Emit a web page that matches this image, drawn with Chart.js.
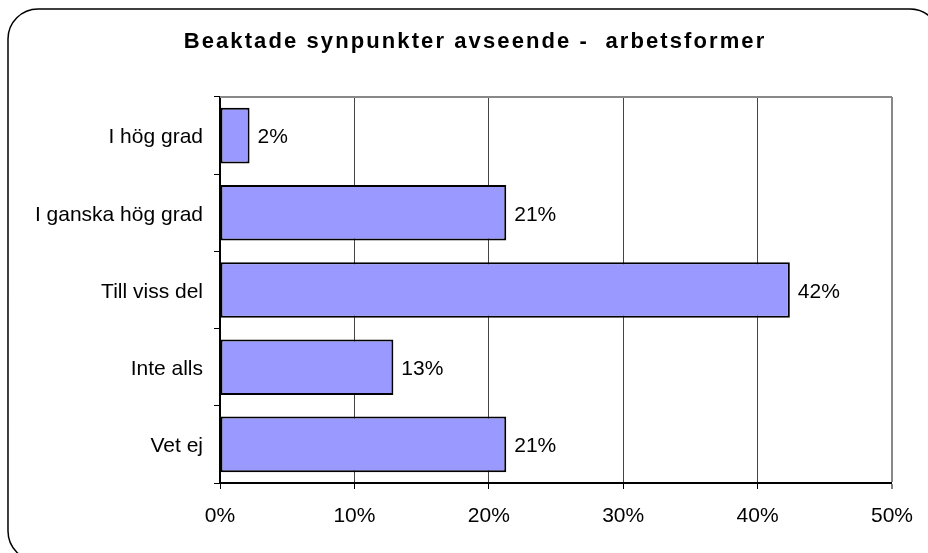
<!DOCTYPE html>
<html>
<head>
<meta charset="utf-8">
<script src="https://cdn.jsdelivr.net/npm/chart.js@4"></script>
<style>
html,body{margin:0;padding:0;background:#fff;}
canvas{display:block;}
</style>
</head>
<body>
<canvas id="c" width="928" height="553"></canvas>
<script>
const title = "Beaktade synpunkter avseende -  arbetsformer";
const categories = ["I hög grad", "I ganska hög grad", "Till viss del", "Inte alls", "Vet ej"];
const values = [2.2, 21.3, 42.4, 12.9, 21.3];
const xTicks = [0, 10, 20, 30, 40, 50];

const FONT = '"Liberation Sans", Arial, sans-serif';

const framePlugin = {
  id: 'frame',
  beforeDraw(chart) {
    const ctx = chart.ctx;
    ctx.save();
    ctx.fillStyle = '#fff';
    ctx.fillRect(0, 0, chart.width, chart.height);
    ctx.beginPath();
    ctx.roundRect(8, 9, 932, 552, 30);
    ctx.lineWidth = 1.5;
    ctx.strokeStyle = '#000';
    ctx.stroke();
    ctx.restore();
  },
  afterDraw(chart) {
    const ctx = chart.ctx;
    const a = chart.chartArea;
    ctx.save();
    ctx.strokeStyle = '#888';
    ctx.lineWidth = 2;
    ctx.beginPath();
    ctx.moveTo(a.left, a.top);
    ctx.lineTo(a.right, a.top);
    ctx.stroke();
    ctx.fillStyle = '#000';
    ctx.font = 'bold 22px ' + FONT;
    ctx.textAlign = 'center';
    ctx.textBaseline = 'middle';
    if ('letterSpacing' in ctx) ctx.letterSpacing = '2.1px';
    ctx.fillText(title, 475, 42);
    if ('letterSpacing' in ctx) ctx.letterSpacing = '0px';
    ctx.font = '21px ' + FONT;
    ctx.textAlign = 'left';
    const meta = chart.getDatasetMeta(0);
    meta.data.forEach((bar, i) => {
      ctx.fillText(Math.round(values[i]) + '%', bar.x + 8, bar.y + 2);
    });
    ctx.restore();
  }
};

new Chart(document.getElementById('c'), {
  type: 'bar',
  data: {
    labels: categories,
    datasets: [{
      data: values,
      backgroundColor: '#9999FF',
      borderColor: '#000',
      borderWidth: 2,
      borderSkipped: false,
      barPercentage: 0.72,
      categoryPercentage: 1
    }]
  },
  options: {
    indexAxis: 'y',
    responsive: false,
    animation: false,
    devicePixelRatio: 1,
    layout: { padding: { top: 97, right: 36, left: 0, bottom: 0 } },
    plugins: { legend: { display: false }, tooltip: { enabled: false }, title: { display: false } },
    scales: {
      x: {
        min: 0, max: 50,
        afterFit(s) { s.height = 70; },
        afterBuildTicks(s) { s.ticks = xTicks.map(v => ({ value: v })); },
        ticks: {
          color: '#000',
          font: { family: FONT, size: 21 },
          padding: 15,
          callback: v => v + '%'
        },
        grid: {
          color: ctx => ctx.index === 5 ? '#888' : '#444',
          lineWidth: ctx => ctx.index === 5 ? 2 : 1,
          tickColor: '#000',
          tickLength: 6,
          tickWidth: 1
        },
        border: { color: '#000', width: 2 }
      },
      y: {
        afterFit(s) { s.width = 220; },
        ticks: {
          color: '#000',
          font: { family: FONT, size: 21 },
          padding: 11,
          labelOffset: 2
        },
        grid: {
          offset: true,
          drawOnChartArea: false,
          tickColor: '#000',
          tickLength: 6,
          tickWidth: 1
        },
        border: { color: '#000', width: 2 }
      }
    }
  },
  plugins: [framePlugin]
});
</script>
</body>
</html>
